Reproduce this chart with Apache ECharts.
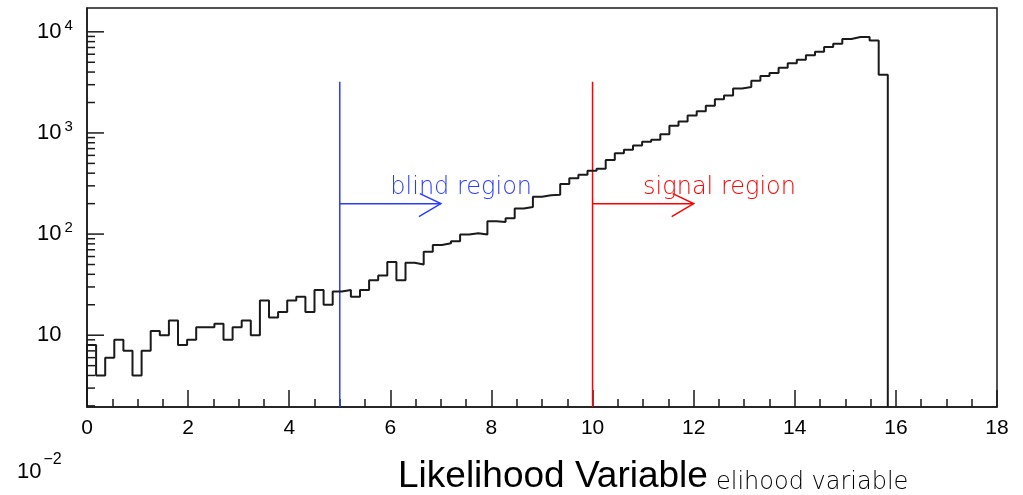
<!DOCTYPE html>
<html>
<head>
<meta charset="utf-8">
<script src="https://cdn.jsdelivr.net/npm/echarts@6/dist/echarts.min.js"></script>
<style>
html,body{margin:0;padding:0;background:#ffffff;}
#c{width:1023px;height:495px;}
</style>
</head>
<body>
<div id="c"></div>
<script>
// ---- data ----
const binWidth = 0.18;            // x units (axis shown as x 10^-2)
const counts = [
  8, 4, 6, 9, 7, 4, 7, 11, 10, 14,
  8, 9, 12, 12, 13, 9, 12, 14, 10, 22,
  15, 17, 22, 24, 17, 28, 20, 27, 28, 24,
  28, 35, 39, 53, 35, 52, 50, 67, 78, 81,
  85, 99, 102, 99, 134, 132, 143, 179, 185, 234,
  242, 245, 312, 356, 385, 422, 443, 541, 631, 683,
  750, 818, 857, 970, 1180, 1300, 1490, 1640, 1860, 2150,
  2340, 2750, 2850, 3290, 3660, 3920, 4410, 4900, 5300, 5860,
  6340, 7080, 7620, 8500, 8870, 8870, 8200, 3770
];
const xMin = 0, xMax = 18, xInterval = 2;
const yMin = 1.95, yMax = 17200;
const yMajorTicks = [10, 100, 1000, 10000];
const yMinorTicks = [
  2, 3, 4, 5, 6, 7, 8, 9,
  20, 30, 40, 50, 60, 70, 80, 90,
  200, 300, 400, 500, 600, 700, 800, 900,
  2000, 3000, 4000, 5000, 6000, 7000, 8000, 9000
];
const cutBlind = 5, cutSignal = 10, cutLineTop = 3200;
const arrowY = 200, arrowLength = 2;
const regionNames = ['blind region', 'signal region'];
const regionLabelX = [6, 11];
const regionLabelY = 285;

// ---- styles ----
const BLUE = '#2a3cff', RED = '#ff0000', INK = '#1a1a1a';
const AXFONT = "'Liberation Sans', Arial, sans-serif";
const ROOTFONT = "'DejaVu Sans', sans-serif";

const histData = [[0, yMin]]
  .concat(counts.map((c, k) => [k * binWidth, c]))
  .concat([[counts.length * binWidth, yMin]]);

const tickData = yMajorTicks.map(v => [xMin, v, 17])
  .concat(yMinorTicks.map(v => [xMin, v, 8]));

const cuts = [cutBlind, cutSignal];
const cutColors = [BLUE, RED];

const chart = echarts.init(document.getElementById('c'), null, {renderer: 'canvas'});
chart.setOption({
  animation: false,
  backgroundColor: '#ffffff',
  grid: {left: 87, right: 26, top: 8, bottom: 88, show: true,
         borderColor: INK, borderWidth: 1.5, backgroundColor: 'transparent'},
  xAxis: {
    type: 'value', min: xMin, max: xMax, interval: xInterval,
    axisLine: {show: true, lineStyle: {color: INK, width: 1.5}},
    axisTick: {show: true, inside: true, length: 17, lineStyle: {color: INK, width: 1.5}},
    minorTick: {show: true, splitNumber: 4, length: 8, lineStyle: {color: INK, width: 1.5}},
    splitLine: {show: false},
    axisLabel: {color: '#000', fontSize: 21, fontFamily: AXFONT, margin: 11}
  },
  yAxis: {
    type: 'log', min: yMin, max: yMax, logBase: 10,
    axisLine: {show: true, lineStyle: {color: INK, width: 1.5}},
    axisTick: {show: false},
    splitLine: {show: false},
    axisLabel: {
      showMinLabel: false, showMaxLabel: false,
      align: 'left', margin: 50, color: '#000',
      formatter: function (v) {
        const e = Math.round(Math.log10(v));
        if (Math.abs(Math.pow(10, e) - v) > 1e-6 * v) return '';
        if (e === 1) return '{b|10}';
        return '{b|10}{s|' + e + '}';
      },
      rich: {
        b: {fontSize: 22, fontFamily: AXFONT, color: '#000'},
        s: {fontSize: 15, fontFamily: AXFONT, color: '#000', padding: [0, 0, 12, 3]}
      }
    }
  },
  series: [
    {
      type: 'line', step: 'end', data: histData, symbol: 'none',
      lineStyle: {color: INK, width: 2}, z: 5
    },
    {
      type: 'line', data: [[cutBlind, yMin], [cutBlind, cutLineTop]], symbol: 'none',
      lineStyle: {color: BLUE, width: 1.5}, z: 4
    },
    {
      type: 'line', data: [[cutSignal, yMin], [cutSignal, cutLineTop]], symbol: 'none',
      lineStyle: {color: RED, width: 1.5}, z: 4
    },
    {
      type: 'custom', z: 6,
      data: cuts.map((c, i) => [c, arrowY, c + arrowLength, i]),
      renderItem: function (params, api) {
        const p0 = api.coord([api.value(0), api.value(1)]);
        const p1 = api.coord([api.value(2), api.value(1)]);
        const col = cutColors[api.value(3)];
        return {
          type: 'group',
          children: [
            {type: 'line', shape: {x1: p0[0], y1: p0[1], x2: p1[0], y2: p1[1]},
             style: {stroke: col, lineWidth: 1.5}},
            {type: 'polyline', shape: {points: [[p1[0] - 21, p1[1] - 10], [p1[0], p1[1]], [p1[0] - 22, p1[1] + 13]]},
             style: {stroke: col, lineWidth: 1.5, fill: null}}
          ]
        };
      }
    },
    {
      type: 'custom', z: 6,
      data: regionNames.map((n, i) => [regionLabelX[i], regionLabelY, i]),
      renderItem: function (params, api) {
        const p = api.coord([api.value(0), api.value(1)]);
        const i = api.value(2);
        return {
          type: 'text', x: p[0], y: p[1],
          style: {text: regionNames[i], fill: cutColors[i],
                  font: '200 24px ' + ROOTFONT, textAlign: 'left', textVerticalAlign: 'middle'}
        };
      }
    },
    {
      type: 'custom', z: 6,
      data: tickData,
      renderItem: function (params, api) {
        const p = api.coord([api.value(0), api.value(1)]);
        const len = api.value(2);
        return {type: 'line', shape: {x1: p[0], y1: p[1], x2: p[0] + len, y2: p[1]},
                style: {stroke: INK, lineWidth: 1.5}};
      }
    }
  ],
  graphic: [
    {type: 'text', left: 398, top: 458, style: {text: 'Likelihood Variable', fill: '#000', font: '37px ' + AXFONT}},
    {type: 'text', left: 716, top: 471, style: {text: 'elihood variable', fill: '#000', font: '200 24px ' + ROOTFONT}},
    {type: 'text', left: 17, top: 452, style: {
      text: '{b|10}{s|−2}',
      rich: {
        b: {fontSize: 22, fontFamily: AXFONT, fill: '#000', padding: [12, 0, 0, 0]},
        s: {fontSize: 16, fontFamily: AXFONT, fill: '#000', padding: [0, 0, 12, 2]}
      }
    }}
  ]
});
</script>
</body>
</html>
